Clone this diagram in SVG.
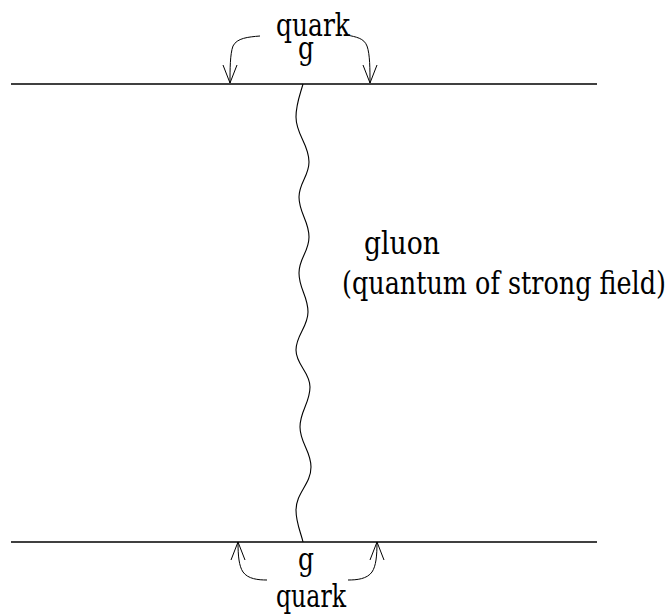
<svg xmlns="http://www.w3.org/2000/svg" width="671" height="616" viewBox="0 0 671 616">
<style>
text{font-family:"DejaVu Serif","Liberation Serif",serif;font-size:32px;fill:#000}
.ln{stroke:#000;stroke-width:1.4;fill:none}
.w{stroke:#000;stroke-width:1.1;fill:none}
.ar{stroke:#000;stroke-width:1;fill:none}
</style>
<rect width="671" height="616" fill="#fff"/>
<g id="quark-top">
<line class="ln" x1="11" y1="84" x2="597" y2="84"/>
</g>
<g id="quark-bottom">
<line class="ln" x1="11" y1="542" x2="597" y2="542"/>
</g>
<g id="gluon">
<path class="w" d="M303,84 C300,95 296,104 296,117 C296,135 309,144 309,162 C309,176 299,183 299,197 C299,213 309,221 309,237 C309,252 299,258 299,273 C299,289 308,296 308,312 C308,327 296,335 296,350 C296,365 310,372 310,387 C310,403 300,411 300,427 C300,443 311,451 311,467 C311,484 296,493 296,510 C296,523 301,533 303,542"/>
</g>
<g id="labels">
<text x="276" y="36" textLength="74" lengthAdjust="spacingAndGlyphs">quark</text>
<text x="306" y="59" text-anchor="middle" textLength="16" lengthAdjust="spacingAndGlyphs">g</text>
<text x="364" y="254" textLength="76" lengthAdjust="spacingAndGlyphs">gluon</text>
<text x="342" y="294" textLength="324" lengthAdjust="spacingAndGlyphs">(quantum of strong field)</text>
<text x="306" y="570" text-anchor="middle" textLength="16" lengthAdjust="spacingAndGlyphs">g</text>
<text x="276" y="607" textLength="70" lengthAdjust="spacingAndGlyphs">quark</text>
</g>
<g id="connectors">
<path class="ar" d="M260,36 C248,37 237,38 233,46 C230,54 230,70 230,83"/>
<path class="ar" d="M223,65 L230,83 L237,65"/>
<path class="ar" d="M347,35 C356,37 364,38 367,46 C370,54 370,70 370,83"/>
<path class="ar" d="M363,65 L370,83 L377,65"/>
<path class="ar" d="M238,542 C238,556 239,566 243,572 C248,579 258,580 267,580"/>
<path class="ar" d="M231,560 L238,542 L245,560"/>
<path class="ar" d="M377,542 C377,556 376,566 372,572 C367,579 357,580 348,580"/>
<path class="ar" d="M370,560 L377,542 L384,560"/>
</g>
</svg>
